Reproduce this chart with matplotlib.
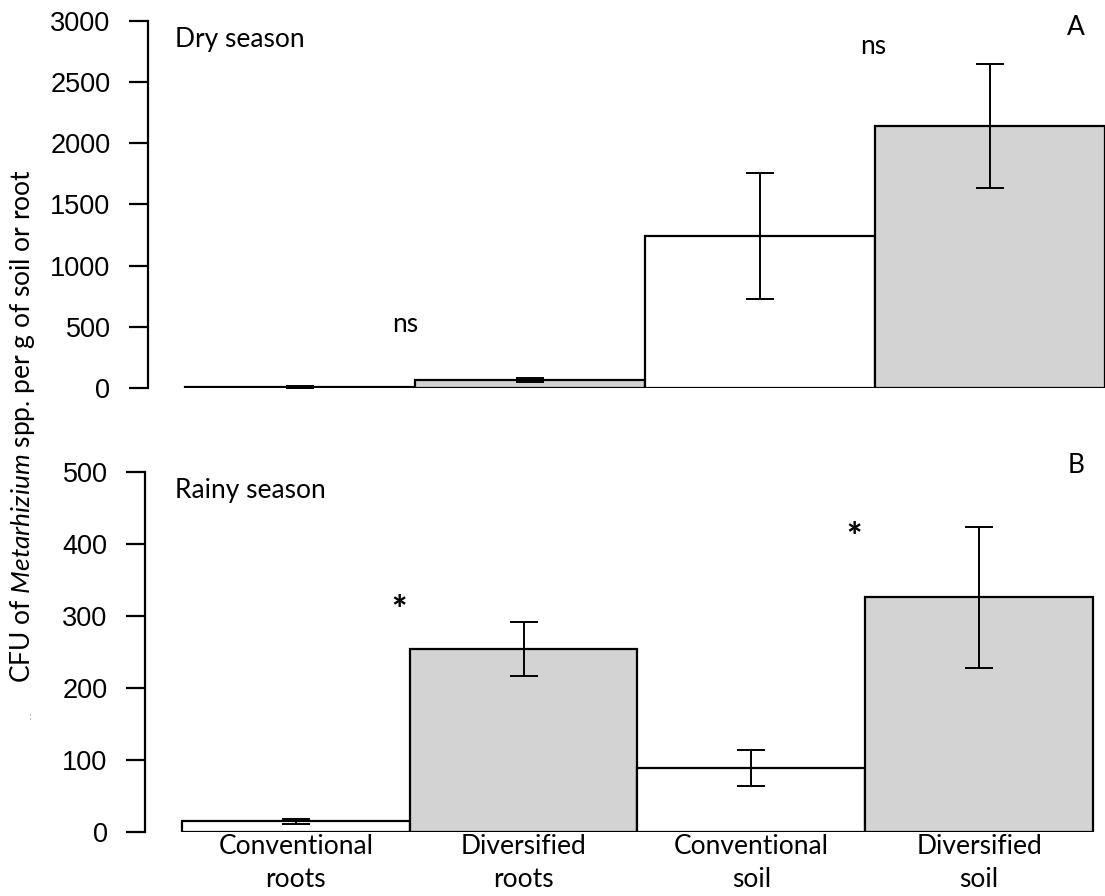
import matplotlib
matplotlib.use("Agg")
import matplotlib.pyplot as plt

# ---- data ----
categories = ["Conventional\nroots", "Diversified\nroots", "Conventional\nsoil", "Diversified\nsoil"]
dry_means = [12, 68, 1243, 2140]
dry_err = [8, 15, 515, 506]
rainy_means = [15, 254, 89, 326]
rainy_err = [4, 37, 25, 98]
bar_colors = ["white", "lightgray", "white", "lightgray"]
dry_yticks = [0, 500, 1000, 1500, 2000, 2500, 3000]
rainy_yticks = [0, 100, 200, 300, 400, 500]

plt.rcParams["mathtext.fontset"] = "custom"
plt.rcParams["mathtext.rm"] = "Lato"
plt.rcParams["mathtext.it"] = "Lato:italic"

W, H = 1105, 896
fig = plt.figure(figsize=(W / 100, H / 100), dpi=100)

TXT = dict(family="Lato", fontsize=19, color="black")
TICKFONT = dict(family="Liberation Sans", size=19.5)


def style_axis(ax, yticks):
    for s in ("top", "right", "bottom"):
        ax.spines[s].set_visible(False)
    ax.spines["left"].set_linewidth(1.6)
    ax.spines["left"].set_bounds(yticks[0], yticks[-1])
    ax.set_yticks(yticks)
    ax.set_yticklabels([str(t) for t in yticks], **TICKFONT)
    ax.tick_params(axis="y", length=14, width=1.6, pad=13)
    ax.patch.set_alpha(0)


x = list(range(len(categories)))
bar_kw = dict(width=1.0, color=bar_colors, edgecolor="black", linewidth=1.6)
err_kw = dict(ecolor="black", elinewidth=1.4, capsize=10, capthick=1.4)

# ---- dry season panel ----
ax1 = fig.add_axes([148 / W, 1 - 388 / H, (W - 148) / W, 367 / H])
ax1.bar(x, dry_means, yerr=dry_err, error_kw=err_kw, **bar_kw)
ax1.set_xlim(-0.661, 3.5)
ax1.set_ylim(0, 3000)
style_axis(ax1, dry_yticks)
ax1.set_xticks([])
ax1.text(-0.544, 2845, "Dry season", ha="left", va="center", **TXT)
ax1.text(0.456, 515, "ns", ha="center", va="center", **TXT)
ax1.text(2.491, 2790, "ns", ha="center", va="center", **TXT)
ax1.text(3.374, 2943, "A", ha="center", va="center", **TXT)

# ---- rainy season panel ----
ax2 = fig.add_axes([145 / W, 1 - 832.3 / H, (W - 145) / W, 360.6 / H])
ax2.bar(x, rainy_means, yerr=rainy_err, error_kw=err_kw, **bar_kw)
ax2.set_xlim(-0.662, 3.553)
ax2.set_ylim(0, 500)
style_axis(ax2, rainy_yticks)
ax2.set_xticks(x)
ax2.set_xticklabels(categories, family="Lato", fontsize=19, linespacing=1.4)
ax2.tick_params(axis="x", length=0, pad=1)
ax2.text(-0.530, 474, "Rainy season", ha="left", va="center", **TXT)
ax2.text(0.453, 306, "*", ha="center", va="center", family="Lato", fontsize=26, fontweight="black")
ax2.text(2.45, 407, "*", ha="center", va="center", family="Lato", fontsize=26, fontweight="black")
ax2.text(3.425, 508, "B", ha="center", va="center", clip_on=False, **TXT)

# ---- shared y label ----
fig.text(23 / W, 1 - 426 / H, r"CFU of $\mathit{Metarhizium}$ spp. per g of soil or root",
         rotation=90, ha="center", va="center", family="Lato", fontsize=19)
fig.text(30 / W, 1 - 716 / H, ". .", rotation=90, ha="center", va="center",
         family="Lato", fontsize=6, color="#555555")

fig.savefig("out.png", dpi=100)
